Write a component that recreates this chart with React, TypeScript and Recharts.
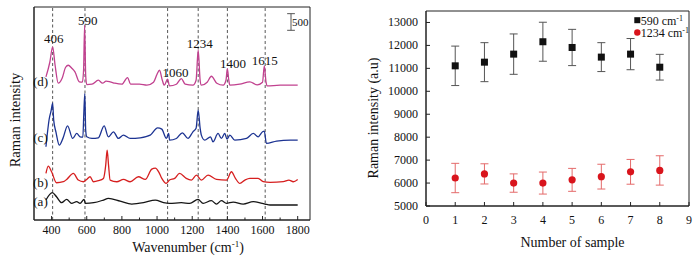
import React from 'react';
import {
  ComposedChart,
  Line,
  Scatter,
  ErrorBar,
  XAxis,
  YAxis,
  ReferenceLine,
  ReferenceDot,
  ReferenceArea,
} from 'recharts';

const FONT = "'Liberation Serif', 'Times New Roman', serif";
const AXIS = '#222';

// ---- left panel: Raman spectra, [wavenumber, intensity incl. offset] ----
const traceA: [number, number][] = [
  [368, 600], [404, 820], [428, 700], [457, 520], [486, 620], [514, 500], [543, 550], [562, 500],
  [585, 620], [592, 500], [640, 520], [695, 600], [723, 650], [790, 570], [856, 480], [923, 520],
  [990, 600], [1037, 520], [1071, 500], [1138, 520], [1186, 500], [1233, 620], [1262, 500],
  [1309, 580], [1338, 480], [1366, 580], [1395, 500], [1433, 540], [1490, 480], [1547, 550],
  [1614, 480], [1643, 450], [1800, 450],
];
const traceB: [number, number][] = [
  [368, 1400], [381, 1620], [400, 1450], [428, 1120], [467, 1150], [486, 1220], [524, 1400],
  [552, 1200], [581, 1150], [600, 1220], [619, 1300], [638, 1150], [666, 1180], [695, 1250],
  [708, 1650], [716, 2100], [724, 1650], [733, 1200], [771, 1150], [809, 1220], [847, 1150],
  [894, 1300], [933, 1220], [970, 1530], [990, 1560], [1010, 1440], [1027, 1250], [1052, 1100],
  [1071, 1200], [1100, 1250], [1128, 1400], [1166, 1250], [1195, 1200], [1224, 1350], [1252, 1200],
  [1290, 1350], [1338, 1220], [1395, 1200], [1423, 1450], [1445, 1260], [1471, 1100], [1500, 1200],
  [1528, 1250], [1575, 1250], [1604, 1150], [1643, 1130], [1718, 1150], [1750, 1200], [1775, 1150],
  [1800, 1220],
];
const traceC: [number, number][] = [
  [368, 2200], [387, 3050], [398, 3300], [406, 3510], [412, 3000], [425, 2640], [444, 2250],
  [465, 2460], [491, 2830], [520, 2450], [543, 2600], [562, 2500], [578, 2490], [583, 3150],
  [589, 3800], [594, 2700], [600, 2500], [630, 2450], [666, 2470], [699, 2830], [723, 2500],
  [752, 2650], [780, 2450], [809, 2550], [847, 2450], [904, 2470], [961, 2550], [1003, 2770],
  [1027, 2730], [1053, 2450], [1066, 2600], [1071, 2400], [1110, 2450], [1144, 2620], [1176, 2450],
  [1204, 2650], [1222, 2760], [1234, 3300], [1245, 2760], [1252, 2550], [1271, 2400], [1304, 2500],
  [1318, 2350], [1347, 2600], [1366, 2450], [1385, 2600], [1398, 2430], [1414, 2550], [1442, 2400],
  [1509, 2450], [1547, 2600], [1575, 2500], [1600, 2650], [1610, 2670], [1622, 2300], [1680, 2370],
  [1758, 2400], [1800, 2400],
];
const traceD: [number, number][] = [
  [368, 4300], [390, 4740], [406, 5200], [420, 4650], [438, 4110], [460, 4260], [480, 4590],
  [495, 4650], [515, 4560], [533, 4450], [558, 4150], [575, 4140], [582, 4500], [588, 5850],
  [594, 4350], [600, 4070], [630, 4080], [666, 4200], [690, 4110], [710, 4170], [733, 4150],
  [760, 4110], [800, 4080], [832, 4280], [850, 4080], [900, 4080], [942, 4050], [980, 4140],
  [1000, 4380], [1014, 4500], [1030, 4200], [1041, 4050], [1060, 4230], [1071, 4030], [1110, 4080],
  [1138, 4250], [1160, 4080], [1204, 4050], [1222, 4200], [1234, 5100], [1245, 4200], [1252, 4050],
  [1285, 4140], [1309, 4320], [1340, 4110], [1376, 4050], [1392, 4200], [1400, 4550], [1408, 4200],
  [1414, 4050], [1470, 4080], [1528, 4150], [1570, 4060], [1600, 4140], [1610, 4630], [1620, 4140],
  [1626, 4030], [1700, 4050], [1800, 4050],
];

const traces = [traceA, traceB, traceC, traceD];
const traceColors = ['#151515', '#d61f1f', '#1c3392', '#c1418f'];
const traceNames = ['(a)', '(b)', '(c)', '(d)'];
const traceNameY = [570, 1140, 2490, 4170];

const peakLines = [406, 590, 1060, 1234, 1400, 1615];
const peakLabels = ['406', '590', '1060', '1234', '1400', '1615'];
const peakLabelX = [413, 606, 1105, 1243, 1432, 1613];
const peakLabelY = [5450, 5980, 4420, 5300, 4700, 4780];

const wnTicks = [400, 500, 600, 700, 800, 900, 1000, 1100, 1200, 1300, 1400, 1500, 1600, 1700, 1800];
const wnDomain = [300, 1870];
const spDomain = [0, 6400];

// scale bar: 500 counts
const barX = 1762;
const barLow = 5700;
const barSize = 500;

// ---- right panel: intensity per sample ----
const samples = [1, 2, 3, 4, 5, 6, 7, 8];
const int590 = [11110, 11270, 11620, 12160, 11910, 11490, 11620, 11050];
const err590 = [860, 850, 880, 850, 790, 630, 680, 560];
const int1234 = [6220, 6400, 6000, 6000, 6140, 6280, 6490, 6550];
const err1234 = [640, 440, 400, 480, 500, 540, 540, 640];
const sampleTicks = [0, 1, 2, 3, 4, 5, 6, 7, 8, 9];
const intTicks = [5000, 6000, 7000, 8000, 9000, 10000, 11000, 12000, 13000];

const toPoints = (t: [number, number][]) => t.map(([wn, v]) => ({ wn, v }));
const d590 = samples.map((x, i) => ({ x, y: int590[i], err: err590[i] }));
const d1234 = samples.map((x, i) => ({ x, y: int1234[i], err: err1234[i] }));

const leftXTick = (props: any) => {
  const { x, y, payload } = props;
  const major = payload.value % 200 === 0;
  return (
    <g>
      <line x1={x} y1={y} x2={x} y2={y - (major ? 4 : 2.5)} stroke={AXIS} />
      {major && (
        <text x={x} y={y + 14} textAnchor="middle" fontSize={12} fontFamily={FONT} fill="#111">
          {payload.value}
        </text>
      )}
    </g>
  );
};

const rightXTick = (props: any) => {
  const { x, y, payload } = props;
  return (
    <g>
      <line x1={x} y1={y} x2={x} y2={y - 4} stroke={AXIS} />
      <text x={x} y={y + 18} textAnchor="middle" fontSize={12} fontFamily={FONT} fill="#111">
        {payload.value}
      </text>
    </g>
  );
};

const rightYTick = (props: any) => {
  const { x, y, payload } = props;
  return (
    <g>
      <line x1={x} y1={y} x2={x + 4} y2={y} stroke={AXIS} />
      <text x={x - 8} y={y + 4} textAnchor="end" fontSize={12} fontFamily={FONT} fill="#111">
        {payload.value}
      </text>
    </g>
  );
};

const textLabel = (text: string, size: number) => (props: any) => {
  const { viewBox } = props;
  return (
    <text
      x={viewBox.x + viewBox.width / 2}
      y={viewBox.y + viewBox.height / 2}
      textAnchor="middle"
      dominantBaseline="central"
      fontSize={size}
      fontFamily={FONT}
      fill="#111"
    >
      {text}
    </text>
  );
};

// y-axis label: title plus the (a)-(d) trace names, which sit across the left frame edge
const leftYLabel = (p: any) => {
  const vb = p.viewBox;
  const right = vb.x + vb.width;
  const py = (v: number) => vb.y + vb.height * (1 - (v - spDomain[0]) / (spDomain[1] - spDomain[0]));
  return (
    <g>
      <text x={20} y={120} transform="rotate(-90, 20, 120)" textAnchor="middle" fontSize={14.5} fontFamily={FONT} fill="#111">
        Raman intensity
      </text>
      {traceNames.map((t, i) => (
        <text key={t} x={right + 6.5} y={py(traceNameY[i])} textAnchor="middle" dominantBaseline="central" fontSize={13} fontFamily={FONT} fill="#111">
          {t}
        </text>
      ))}
    </g>
  );
};

export default function App() {
  return (
    <div style={{ position: 'absolute', left: 0, top: 0, width: 700, height: 257, background: '#fff' }}>
      <div style={{ position: 'absolute', left: 0, top: 0 }}>
        <ComposedChart width={350} height={257} margin={{ top: 7, right: 40, bottom: 0, left: 0 }}>
          <XAxis
            type="number"
            dataKey="wn"
            domain={wnDomain}
            ticks={wnTicks}
            interval={0}
            allowDataOverflow
            tickSize={0}
            tickMargin={0}
            tick={leftXTick}
            height={37}
            stroke={AXIS}
            label={(p: any) => (
              <text x={p.viewBox.x + p.viewBox.width / 2 + 16} y={p.viewBox.y + 32} textAnchor="middle" fontSize={14} fontFamily={FONT} fill="#111">
                Wavenumber (cm<tspan dy={-5} fontSize={9}>-1</tspan><tspan dy={5}>)</tspan>
              </text>
            )}
          />
          <YAxis
            type="number"
            domain={spDomain}
            allowDataOverflow
            tick={false}
            tickLine={false}
            width={34}
            stroke={AXIS}
            label={leftYLabel}
          />
          <ReferenceArea x1={wnDomain[0]} x2={wnDomain[1]} y1={spDomain[0]} y2={spDomain[1]} fill="none" stroke={AXIS} strokeWidth={1} />
          {peakLines.map((x) => (
            <ReferenceLine key={x} x={x} stroke="#444" strokeWidth={0.9} strokeDasharray="3 2.5" />
          ))}
          {traces.map((t, i) => (
            <Line
              key={traceNames[i]}
              data={toPoints(t)}
              dataKey="v"
              type="monotone"
              stroke={traceColors[i]}
              strokeWidth={1.3}
              dot={false}
              isAnimationActive={false}
            />
          ))}
          <ReferenceLine segment={[{ x: barX, y: barLow }, { x: barX, y: barLow + barSize }]} stroke="#555" />
          <ReferenceLine segment={[{ x: barX - 22, y: barLow }, { x: barX + 22, y: barLow }]} stroke="#555" />
          <ReferenceLine segment={[{ x: barX - 22, y: barLow + barSize }, { x: barX + 22, y: barLow + barSize }]} stroke="#555" />
          <ReferenceDot x={barX} y={barLow + barSize / 2} r={0.01} fill="none" stroke="none" label={{ value: String(barSize), position: 'right', offset: 1, fontSize: 11, fontFamily: FONT, fill: '#111' }} />
          {peakLabels.map((t, i) => (
            <ReferenceDot key={t} x={peakLabelX[i]} y={peakLabelY[i]} r={0.01} fill="none" stroke="none" label={textLabel(t, 13)} />
          ))}
        </ComposedChart>
      </div>

      <div style={{ position: 'absolute', left: 350, top: 0 }}>
        <ComposedChart width={350} height={257} margin={{ top: 11, right: 11, bottom: 0, left: 0 }}>
          <XAxis
            type="number"
            dataKey="x"
            domain={[0, 9]}
            ticks={sampleTicks}
            interval={0}
            tickSize={0}
            tickMargin={0}
            tick={rightXTick}
            height={51}
            stroke={AXIS}
            label={(p: any) => (
              <text x={p.viewBox.x + p.viewBox.width / 2 + 15} y={p.viewBox.y + 41} textAnchor="middle" fontSize={14} fontFamily={FONT} fill="#111">
                Number of sample
              </text>
            )}
          />
          <YAxis
            type="number"
            domain={[5000, 13500]}
            ticks={intTicks}
            interval={0}
            tickSize={0}
            tickMargin={0}
            tick={rightYTick}
            width={76}
            stroke={AXIS}
            label={(p: any) => (
              <text x={28} y={118} transform="rotate(-90, 28, 118)" textAnchor="middle" fontSize={14} fontFamily={FONT} fill="#111">
                Raman intensity (a.u)
              </text>
            )}
          />
          <ReferenceArea x1={0} x2={9} y1={5000} y2={13500} fill="none" stroke={AXIS} strokeWidth={1} />
          <Scatter
            data={d590}
            dataKey="y"
            fill="#111"
            isAnimationActive={false}
            shape={(p: any) => <rect x={p.cx - 3.5} y={p.cy - 3.5} width={7} height={7} fill="#111" />}
          >
            <ErrorBar dataKey="err" direction="y" width={4} stroke="#555" strokeWidth={1} isAnimationActive={false} />
          </Scatter>
          <Scatter
            data={d1234}
            dataKey="y"
            fill="#d9141c"
            isAnimationActive={false}
            shape={(p: any) => <circle cx={p.cx} cy={p.cy} r={3.6} fill="#d9141c" />}
          >
            <ErrorBar dataKey="err" direction="y" width={4} stroke="#e46a6a" strokeWidth={1} isAnimationActive={false} />
          </Scatter>
        </ComposedChart>
      </div>

      <svg width={80} height={40} style={{ position: 'absolute', left: 630, top: 12 }}>
        <rect x={4.3} y={5.2} width={6} height={6} fill="#111" />
        <text x={10.7} y={12.5} fontSize={12} fontFamily={FONT} fill="#111">
          590 cm<tspan dy={-4} fontSize={8}>-1</tspan>
        </text>
        <circle cx={7.3} cy={20.5} r={3.2} fill="#d9141c" />
        <text x={10.7} y={25} fontSize={12} fontFamily={FONT} fill="#111">
          1234 cm<tspan dy={-4} fontSize={8}>-1</tspan>
        </text>
      </svg>
    </div>
  );
}
